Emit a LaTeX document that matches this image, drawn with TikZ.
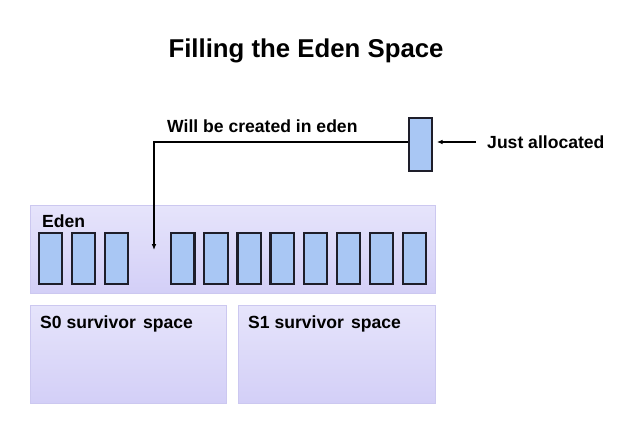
\documentclass[tikz,border=0pt]{standalone}
\usepackage{fontspec}
\setmainfont{Liberation Sans}
\usetikzlibrary{positioning,arrows.meta}

\definecolor{spacetop}{HTML}{E6E4FB}
\definecolor{spacebot}{HTML}{D3CFF7}
\definecolor{spaceedge}{HTML}{CCC8F0}
\definecolor{objfill}{HTML}{A9C7F4}
\definecolor{objedge}{HTML}{1E1E2A}

\begin{document}
\begin{tikzpicture}[x=0.03cm, y=-0.03cm,
                    space/.style={draw=spaceedge, top color=spacetop, bottom color=spacebot,
                                  anchor=north west, inner sep=0},
                    obj/.style={draw=objedge, line width=1.9pt, fill=objfill,
                                inner sep=0, minimum width=0.7cm, minimum height=1.54cm},
                    lbl/.style={font=\bfseries\fontsize{15}{17}\selectfont, anchor=base west, inner sep=0},
                    link/.style={line width=1.2pt, -{Latex[length=5pt,width=4pt]}}]
                \useasboundingbox (0,0) rectangle (644,425);

                \node (title) [font=\bfseries\fontsize{22}{26}\selectfont, anchor=base] at (306,58)
                    {Filling the Eden Space};

                % heap areas
                \node (eden) [space, minimum width=12.15cm, minimum height=2.64cm] at (30,205) {};
                \node (s0) [space, minimum width=5.88cm, minimum height=2.94cm] at (30,305) {};
                \node (s1) [space, minimum width=5.91cm, minimum height=2.94cm] at (238,305) {};
                \node (edenlbl) [lbl] at (42,227) {Eden};
                \node (s0lbl) [lbl] at (40,328) {S0 survivor\hspace{2pt} space};
                \node (s1lbl) [lbl] at (248,328) {S1 survivor\hspace{2pt} space};

                % objects already in eden, slot 3 left free
                \foreach \k in {0,1,2,4,5,6,7,8,9,10,11}
                    \node (obj\k) [obj] at (50.5+33.1*\k,258.5) {};

                % the new object
                \node (new) [obj, minimum height=1.58cm] at (420.5,144.5) {};
                \node (newlbl) [lbl] at (487,149) {Just allocated};
                \node (wlbl) [lbl] at (167,133) {Will be created in eden};

                \coordinate (slot) at (154,250);
                \coordinate (tail) at (476,142);
                \draw [link] (new.west |- 0,142) -| (slot);
                \draw [link, shorten >=3pt] (tail) -- (new.east |- tail);
            \end{tikzpicture}
\end{document}
